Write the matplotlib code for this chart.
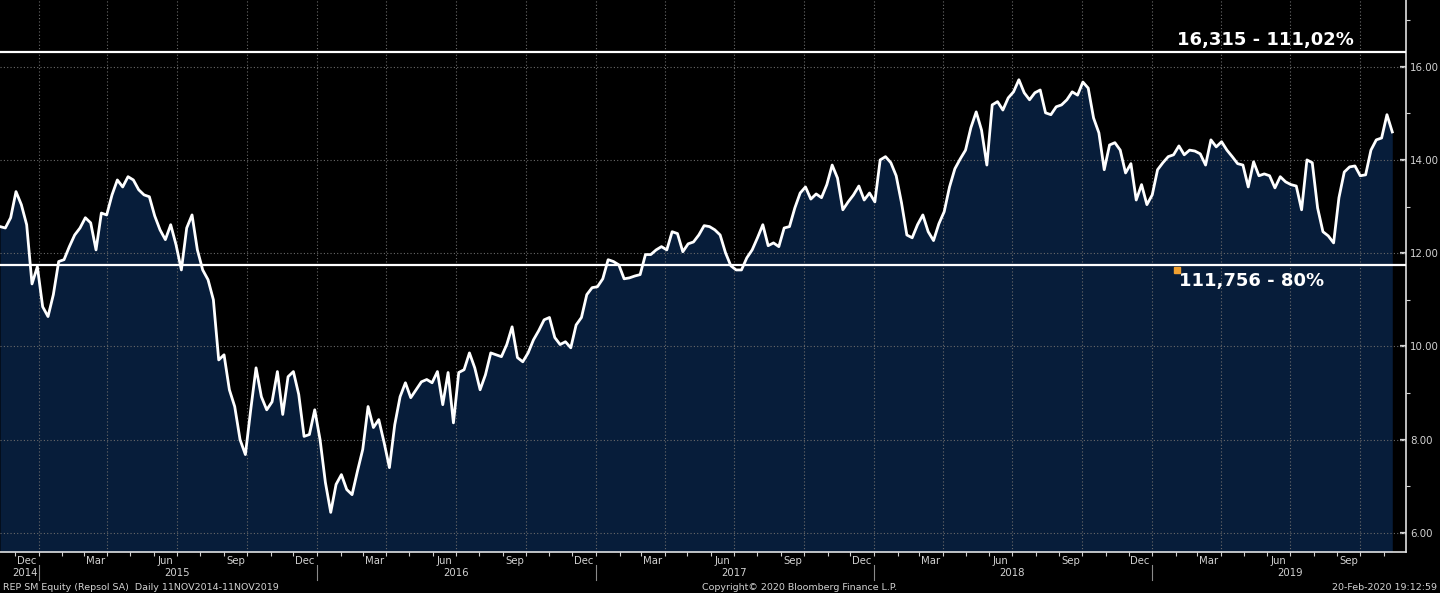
import matplotlib
matplotlib.use("Agg")
import matplotlib.pyplot as plt
import matplotlib.transforms as mtransforms
import numpy as np
import pandas as pd

# weekly closes, REP SM Equity
start_date = "2014-11-11"
prices = [
    12.57, 12.54, 12.76, 13.32, 13.04, 12.61, 11.34, 11.71, 10.85, 10.64,
    11.11, 11.82, 11.86, 12.14, 12.39, 12.54, 12.76, 12.65, 12.07, 12.86,
    12.82, 13.25, 13.57, 13.42, 13.64, 13.57, 13.36, 13.25, 13.21, 12.80,
    12.50, 12.29, 12.61, 12.18, 11.64, 12.54, 12.82, 12.07, 11.64, 11.43,
    11.00, 9.71, 9.82, 9.07, 8.71, 8.00, 7.68, 8.64, 9.54, 8.92,
    8.64, 8.81, 9.46, 8.54, 9.35, 9.46, 8.97, 8.07, 8.11, 8.64,
    8.00, 7.08, 6.44, 7.04, 7.25, 6.93, 6.82, 7.32, 7.79, 8.71,
    8.26, 8.43, 7.94, 7.40, 8.32, 8.92, 9.22, 8.90, 9.07, 9.24,
    9.29, 9.22, 9.46, 8.75, 9.44, 8.36, 9.44, 9.50, 9.86, 9.54,
    9.07, 9.39, 9.86, 9.82, 9.78, 10.04, 10.42, 9.76, 9.67, 9.86,
    10.14, 10.34, 10.57, 10.62, 10.19, 10.04, 10.10, 9.97, 10.46, 10.62,
    11.11, 11.26, 11.28, 11.45, 11.86, 11.82, 11.75, 11.45, 11.47, 11.51,
    11.54, 11.97, 11.97, 12.07, 12.14, 12.07, 12.46, 12.42, 12.03, 12.20,
    12.24, 12.39, 12.59, 12.57, 12.50, 12.39, 12.01, 11.73, 11.64, 11.64,
    11.90, 12.07, 12.33, 12.61, 12.16, 12.22, 12.14, 12.54, 12.57, 12.97,
    13.29, 13.42, 13.16, 13.27, 13.19, 13.47, 13.89, 13.61, 12.93, 13.10,
    13.25, 13.44, 13.14, 13.29, 13.10, 14.00, 14.07, 13.94, 13.66, 13.08,
    12.39, 12.33, 12.61, 12.82, 12.46, 12.27, 12.63, 12.89, 13.42, 13.81,
    14.02, 14.21, 14.69, 15.03, 14.64, 13.89, 15.18, 15.25, 15.07, 15.33,
    15.46, 15.72, 15.44, 15.29, 15.44, 15.50, 15.01, 14.97, 15.14, 15.18,
    15.29, 15.46, 15.39, 15.67, 15.54, 14.90, 14.58, 13.79, 14.32, 14.37,
    14.21, 13.72, 13.92, 13.14, 13.47, 13.04, 13.25, 13.79, 13.94, 14.07,
    14.11, 14.30, 14.11, 14.21, 14.19, 14.13, 13.89, 14.43, 14.28, 14.39,
    14.21, 14.07, 13.92, 13.89, 13.42, 13.96, 13.66, 13.70, 13.66, 13.40,
    13.64, 13.53, 13.47, 13.44, 12.93, 14.00, 13.94, 12.97, 12.46, 12.37,
    12.22, 13.19, 13.74, 13.85, 13.87, 13.66, 13.68, 14.21, 14.43, 14.47,
    14.97, 14.60,
]
dates = pd.date_range(start_date, periods=len(prices), freq="7D")

# horizontal levels and their labels
level_values = [16.315, 11.756]
level_labels = ["16,315 - 111,02%", "111,756 - 80%"]

y_ticks = [6, 8, 10, 12, 14, 16]
month_labels = {12: "Dec", 3: "Mar", 6: "Jun", 9: "Sep"}
years = [2014, 2015, 2016, 2017, 2018, 2019]

footer_left = "REP SM Equity (Repsol SA)  Daily 11NOV2014-11NOV2019"
footer_mid = "Copyright\u00a9 2020 Bloomberg Finance L.P."
footer_right = "20-Feb-2020 19:12:59"

navy = "#071d3a"
txt = "#d2d2d2"
grid_c = "#6a6a6a"

fig = plt.figure(figsize=(14.4, 5.93), dpi=100, facecolor="black")
ax = fig.add_axes([0, 41 / 593, 1406 / 1440, 552 / 593])
ax.set_facecolor("black")

x0 = pd.Timestamp("2014-11-11")
x1 = pd.Timestamp("2019-11-30")
ymin, ymax = 5.59, 17.43

ax.fill_between(dates, prices, ymin, color=navy, lw=0, zorder=1)
ax.plot(dates, prices, color="white", lw=2.0, zorder=4)

ax.set_xlim(x0, x1)
ax.set_ylim(ymin, ymax)

# grid: quarter boundaries and every 2.00
quarters = pd.date_range("2015-01-01", "2019-10-01", freq="QS")
for q in quarters:
    ax.axvline(q, color=grid_c, lw=0.8, ls=(0, (1, 2)), zorder=2)
for v in y_ticks:
    ax.axhline(v, color=grid_c, lw=0.8, ls=(0, (1, 2)), zorder=2)

for v in level_values:
    ax.axhline(v, color="white", lw=1.6, zorder=5)

ax.text(pd.Timestamp("2019-02-03"), level_values[0] + 0.06, level_labels[0],
        color="white", fontsize=13, fontweight="bold", va="bottom", ha="left", zorder=6)
ax.text(pd.Timestamp("2019-02-05"), level_values[1] - 0.17, level_labels[1],
        color="white", fontsize=13, fontweight="bold", va="top", ha="left", zorder=6)
ax.plot([pd.Timestamp("2019-02-02")], [level_values[1] - 0.12], marker="s",
        ms=4, color="#f0a030", zorder=6)

# axes styling
for s in ["left", "top"]:
    ax.spines[s].set_visible(False)
for s in ["right", "bottom"]:
    ax.spines[s].set_color("#e0e0e0")
    ax.spines[s].set_linewidth(1.2)

ax.yaxis.tick_right()
ax.set_yticks(y_ticks)
ax.set_yticklabels(["%.2f" % v for v in y_ticks])
ax.set_yticks([7, 9, 11, 13, 15, 17], minor=True)
ax.tick_params(axis="y", which="major", colors=txt, labelsize=7.4, length=4,
               width=1.6, direction="in", pad=3)
ax.tick_params(axis="y", which="minor", colors=txt, length=3, width=0.8)

month_starts = pd.date_range("2014-12-01", "2019-11-01", freq="MS")
ax.set_xticks(month_starts)
ax.set_xticklabels([])
ax.tick_params(axis="x", which="major", colors="#cfcfcf", length=3, width=0.8)

trans = mtransforms.blended_transform_factory(ax.transData, fig.transFigure)

# month labels, centred in the month
for m in pd.date_range("2014-12-01", "2019-09-01", freq="MS"):
    if m.month in month_labels:
        mid = m + pd.Timedelta(days=15)
        ax.text(mid, 1 - 561 / 593, month_labels[m.month], transform=trans,
                color=txt, fontsize=7.3, ha="center", va="center")

# year labels and separators
for y in years:
    if y == 2014:
        pos = pd.Timestamp("2014-12-14")
    else:
        pos = pd.Timestamp("%d-07-01" % y)
    ax.text(pos, 1 - 573 / 593, str(y), transform=trans, color=txt,
            fontsize=7.3, ha="center", va="center")
    if y > 2014:
        sep = pd.Timestamp("%d-01-01" % y)
        ax.plot([sep, sep], [1 - 565 / 593, 1 - 580 / 593], transform=trans,
                color="#8a8a8a", lw=0.8, clip_on=False)

fig.text(0.002, 1 - 587 / 593, footer_left, color=txt, fontsize=6.8,
         ha="left", va="center")
fig.text(800 / 1440, 1 - 587 / 593, footer_mid, color=txt, fontsize=6.8,
         ha="center", va="center")
fig.text(0.998, 1 - 587 / 593, footer_right, color=txt, fontsize=6.8,
         ha="right", va="center")

fig.savefig("out.png", dpi=100, facecolor="black")
